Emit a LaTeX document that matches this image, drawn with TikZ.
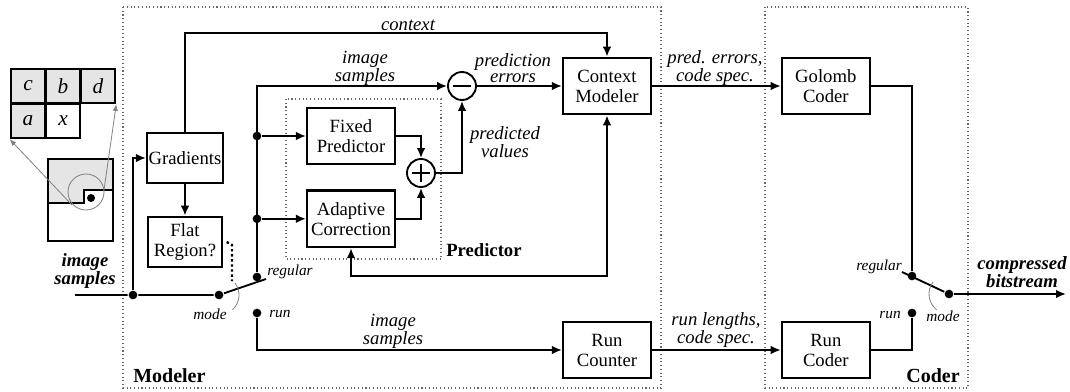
\documentclass[tikz,border=0pt]{standalone}
\usepackage{fontspec}
\setmainfont{Liberation Serif}
\usetikzlibrary{arrows.meta,positioning}

\begin{document}
\begin{tikzpicture}[x=0.75pt, y=-0.75pt, line width=1.4pt, node distance=18pt,
	>={Latex[length=7.5pt,width=6.5pt]},
	blk/.style={draw, line width=1.6pt, align=center, inner sep=1pt,
		minimum width=66pt, minimum height=42.5pt, font=\fontsize{14}{15}\selectfont},
	sumnode/.style={draw, circle, minimum size=21pt, inner sep=0pt},
	junc/.style={circle, fill, inner sep=0pt, minimum size=6.5pt},
	lbl/.style={align=center, inner sep=1pt, font=\fontsize{14}{12.5}\selectfont\itshape},
	blbl/.style={align=center, inner sep=1pt, font=\fontsize{14}{12.5}\selectfont\bfseries\itshape},
	swlbl/.style={inner sep=1pt, font=\fontsize{11.5}{12}\selectfont\itshape},
	ttl/.style={inner sep=1pt, font=\fontsize{15}{15}\selectfont\bfseries},
	frm/.style={draw=black!60, line width=0.8pt, dotted},
	cell/.style={draw, line width=1.4pt, minimum size=26pt, inner sep=0pt,
		font=\fontsize{16}{16}\selectfont\itshape},
	thin/.style={draw=gray, line width=0.6pt, >={Latex[length=5pt,width=4pt]}}]

	\useasboundingbox (0,0) rectangle (1070,392);

	% dotted frames
	\draw[frm] (123,7) rectangle (661,388);
	\draw[frm] (765,7) rectangle (968,388);
	\draw[frm] (286,99) rectangle (441,259);
	\node[ttl, anchor=base west] (modttl) at (131,382) {Modeler};
	\node[ttl, anchor=base east] (codttl) at (962,382) {Coder};
	\node[ttl, anchor=base west, font=\fontsize{14}{14}\selectfont\bfseries] (prettl) at (444,256) {Predictor};

	% causal template
	\foreach \lt/\cx/\cy/\sh in {c/28/86/gray!20, b/63/86/gray!20, d/98/86/gray!20,
		a/28/121/gray!20, x/63/121/white}
		\node[cell, fill=\sh] (cell\lt) at (\cx,\cy) {\lt};

	% small image
	\fill[gray!20] (48,159) -- (113,159) -- (113,190) -- (84,190) -- (84,203) -- (48,203) -- cycle;
	\draw (48,159) rectangle (113,241);
	\draw[line width=1.2pt] (48,203) -- (84,203) -- (84,190) -- (113,190);
	\fill (91,198) circle[radius=3pt];
	\draw[thin] (86,192) circle[radius=13.5pt];
	\draw[thin, ->] (72,205) -- (cella.south west);
	\draw[thin, ->] (104,190) -- (celld.south east);

	% blocks
	\node[blk, minimum width=57pt, minimum height=37.5pt] (grad) at (185,158) {Gradients};
	\node[blk, minimum width=55pt, minimum height=38pt] (flat) at (185,242) {Flat\\Region?};
	\node[blk] (fixed) at (351,136) {Fixed\\Predictor};
	\node[blk, below=of fixed] (adapt) {Adaptive\\Correction};
	\node[blk] (ctxmod) at (607,86) {Context\\Modeler};
	\node[blk] (runcnt) at (607,350) {Run\\Counter};
	\node[blk, right=96.5pt of ctxmod] (golomb) {Golomb\\Coder};
	\node[blk, right=96.5pt of runcnt] (runcod) {Run\\Coder};
	\node[sumnode] (minus) at (462,86) {};
	\node[sumnode] (plus) at (421,173) {};
	\draw ([xshift=-6.5pt]minus.center) -- ([xshift=6.5pt]minus.center);
	\draw ([xshift=-6.5pt]plus.center) -- ([xshift=6.5pt]plus.center)
		([yshift=-6.5pt]plus.center) -- ([yshift=6.5pt]plus.center);

	% junctions and switch
	\coordinate (in0) at (75,295);
	\node[junc] (jin) at (133,295) {};
	\node[junc] (piv) at (219,295) {};
	\node[junc] (reg) at (257,277) {};
	\node[junc] (run) at (257,313) {};
	\coordinate (lev) at (266,279);
	\coordinate (tl) at (reg |- minus);
	\node[junc] (j1) at (reg |- fixed.west) {};
	\node[junc] (j2) at (reg |- adapt.west) {};
	\coordinate (ctxline) at (408,33);
	\coordinate (fb) at (480,276);
	\coordinate (flatsw) at (232,281);

	% modeler connections
	\draw (in0) -- (jin) -- (piv) -- (lev);
	\draw[->] (jin) |- (grad);
	\draw[->] (grad) -- (flat);
	\draw[->] (grad.north) |- (ctxline) -| (ctxmod.north);
	\draw[dotted, line width=1.8pt] ([xshift=3pt]flat.east) -- (232,245) -- (flatsw);
	\draw[thin] (piv) ++(37:15pt) arc[start angle=37, end angle=-48, radius=15pt];
	\draw[->] (reg) -- (tl) -- (minus.west);
	\draw[->] (j1) -- (fixed.west);
	\draw[->] (j2) -- (adapt.west);
	\draw[->] (fixed.east) -| (plus.north);
	\draw[->] (adapt.east) -| (plus.south);
	\draw[->] (plus.east) -| (minus.south);
	\draw[->] (minus.east) -- (ctxmod.west);
	\draw[<->] (adapt.south) |- (fb) -| (ctxmod.south);
	\draw[->] (run) |- (runcnt.west);
	\draw[->] (ctxmod.east) -- (golomb.west);
	\draw[->] (runcnt.east) -- (runcod.west);

	% coder switch
	\node[junc] (creg) at (912,276) {};
	\node[junc] (crun) at (912,313) {};
	\node[junc] (cpiv) at (949,294) {};
	\coordinate (clev) at (902,272);
	\coordinate (out) at (1066,294);
	\draw (golomb.east) -| (creg);
	\draw (runcod.east) -| (crun);
	\draw (clev) -- (cpiv);
	\draw[->] (cpiv) -- (out);
	\draw[thin] (cpiv) ++(143:15pt) arc[start angle=143, end angle=232, radius=15pt];

	% labels
	\node[blbl] (inlbl) at (85,271) {image\\samples};
	\node[blbl] (outlbl) at (1022,272) {compressed\\bitstream};
	\node[lbl, above=0pt of ctxline] (ctxlbl) {context};
	\node[lbl] (smplbl) at (365,68) {image\\samples};
	\node[lbl] (errlbl) at (513,68) {prediction\\errors};
	\node[lbl] (predlbl) at (505,142) {predicted\\values};
	\node[lbl] (gollbl) at (715,68) {pred. errors,\\code spec.};
	\node[lbl] (runlbl) at (716,330) {run lengths,\\code spec.};
	\node[lbl] (rsmplbl) at (393,331) {image\\samples};
	\node[swlbl, anchor=west] (reglbl) at (265,272) {regular};
	\node[swlbl, anchor=west] (runtxt) at (267,314) {run};
	\node[swlbl] (modlbl) at (210,314) {mode};
	\node[swlbl, anchor=east] (creglbl) at (904,267) {regular};
	\node[swlbl, anchor=east] (cruntxt) at (903,315) {run};
	\node[swlbl] (cmodlbl) at (943,316) {mode};
\end{tikzpicture}
\end{document}
